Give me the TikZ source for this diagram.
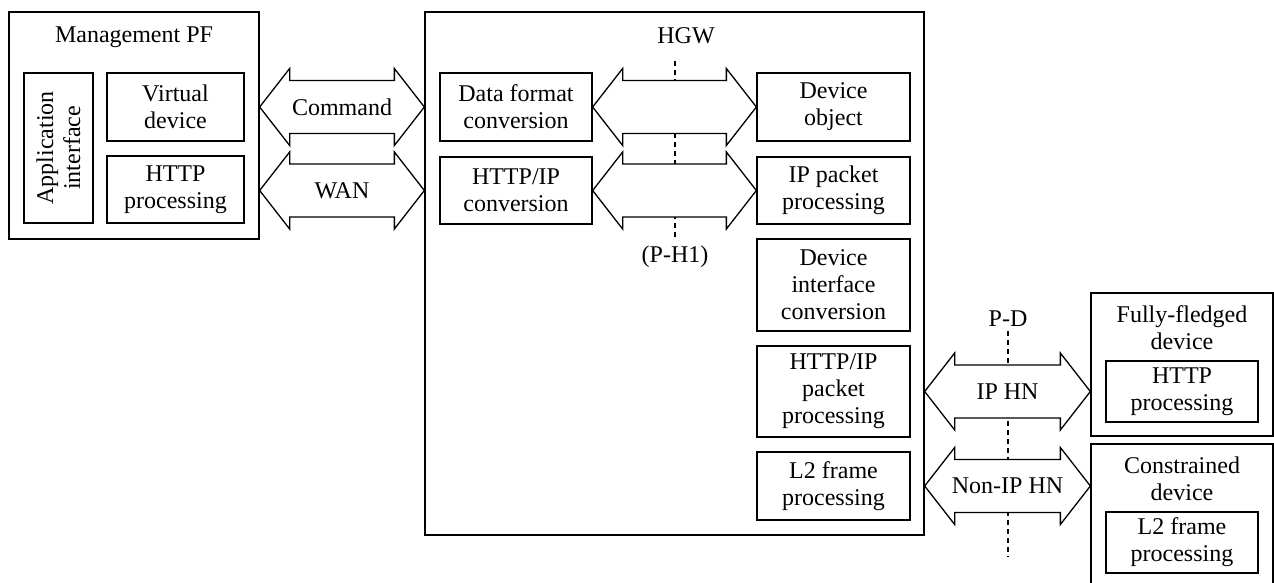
\documentclass[tikz,border=0pt]{standalone}
\usepackage{fontspec}
\setmainfont{Liberation Serif}
\usetikzlibrary{calc}

\tikzset{
  box/.style={draw, line width=1.3pt, inner sep=0pt, align=center,
              font=\fontsize{24}{27}\selectfont},
  txt/.style={inner sep=0pt, align=center, font=\fontsize{24}{27}\selectfont},
  fat/.style={draw, fill=white, line width=1.3pt, line join=miter},
  refline/.style={draw, line width=1.2pt, dash pattern=on 5pt off 4pt},
}

% rectangle node from its corners: name, x1, y1, x2, y2, text
\newcommand\pbox[6]{%
  \node[box, minimum width={#4-#2}, minimum height={#5-#3}]
    (#1) at ({(#2+#4)/2},{(#3+#5)/2}) {#6};}

% two-headed block arrow between two points on one row: name, left, right, label
\newcommand\duplex[4]{%
  \draw[fat] (#2) -- ++(30,-38.5) -- ++(0,12) -- ($(#3)+(-30,-26.5)$)
    -- ++(0,-12) -- (#3) -- ++(-30,38.5) -- ++(0,-12)
    -- ($(#2)+(30,26.5)$) -- ++(0,12) -- cycle;
  \node[txt] (#1) at ($(#2)!0.5!(#3)$) {#4};}

\begin{document}
\begin{tikzpicture}[x=1pt, y=-1pt]
\useasboundingbox (0,0) rectangle (1274,583);
\clip (0,0) rectangle (1274,583);

% Management platform
\pbox{mgmt}{9}{12}{259}{239}{}
\node[txt] (mgmttitle) at (134,37) {Management PF};
\pbox{appif}{24}{73}{93}{223}{}
\node[txt, rotate=90] (appiftxt) at (appif) {Application\\interface};
\pbox{vdev}{107}{73}{244}{141}{Virtual\\device}
\pbox{httpm}{107}{156}{244}{223}{HTTP\\processing}

% Home gateway
\pbox{hgw}{425}{12}{924}{535}{}
\node[txt] (hgwtitle) at (686,36) {HGW};
\pbox{dfc}{440}{73}{592}{141}{Data format\\conversion}
\pbox{hipc}{440}{157}{592}{224}{HTTP/IP\\conversion}
\pbox{dobj}{757}{73}{910}{141}{Device\\object}
\pbox{ippp}{757}{157}{910}{224}{IP packet\\processing}
\pbox{dic}{757}{239}{910}{331}{Device\\interface\\conversion}
\pbox{hipp}{757}{346}{910}{437}{HTTP/IP\\packet\\processing}
\pbox{l2g}{757}{452}{910}{520}{L2 frame\\processing}

% Devices
\pbox{ffd}{1091}{293}{1273}{436}{}
\node[txt] (ffdtitle) at (1182,327.5) {Fully-fledged\\device};
\pbox{httpd}{1106}{361}{1258}{422}{HTTP\\processing}
\pbox{cdev}{1091}{444}{1273}{610}{}
\node[txt] (cdevtitle) at (1182,478.5) {Constrained\\device};
\pbox{l2d}{1106}{512}{1258}{573}{L2 frame\\processing}

% Reference points
\coordinate (ph1top) at (675,61);
\coordinate (ph1bot) at (675,237);
\draw[refline] (ph1top) -- (ph1bot);
\node[txt] (ph1) at (675,257) {(P-H1)};
\coordinate (pdtop) at (1008,331);
\coordinate (pdbot) at (1008,557);
\draw[refline] (pdtop) -- (pdbot);
\node[txt] (pd) at (1008,319) {P-D};

% Interfaces
\coordinate (cmdL) at (mgmt.east |- vdev.center);
\coordinate (cmdR) at (hgw.west |- vdev.center);
\duplex{cmd}{cmdL}{cmdR}{Command}
\coordinate (wanL) at (mgmt.east |- hipc.center);
\coordinate (wanR) at (hgw.west |- hipc.center);
\duplex{wan}{wanL}{wanR}{WAN}
\coordinate (h1L) at (dfc.east);
\coordinate (h1R) at (dobj.west);
\duplex{h1}{h1L}{h1R}{}
\coordinate (h2L) at (hipc.east);
\coordinate (h2R) at (ippp.west);
\duplex{h2}{h2L}{h2R}{}
\coordinate (ipL) at (hgw.east |- hipp.center);
\coordinate (ipR) at (ffd.west |- hipp.center);
\duplex{iphn}{ipL}{ipR}{IP HN}
\coordinate (nipL) at (hgw.east |- l2g.center);
\coordinate (nipR) at (cdev.west |- l2g.center);
\duplex{niphn}{nipL}{nipR}{Non-IP HN}
\end{tikzpicture}
\end{document}
